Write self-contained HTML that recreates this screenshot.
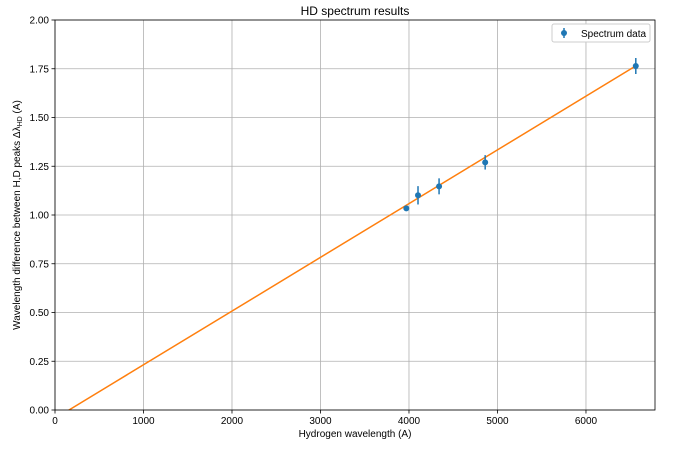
<!DOCTYPE html>
<html><head><meta charset="utf-8"><style>
body{margin:0;background:#fff;font-family:"Liberation Sans","DejaVu Sans",sans-serif}
</style></head><body>
<svg width="679" height="448" xmlns="http://www.w3.org/2000/svg" font-family="Liberation Sans, DejaVu Sans, sans-serif">
<defs><clipPath id="pc"><rect x="55" y="20" width="600" height="390"/></clipPath></defs>
<g id="grid"></g><g id="marks" clip-path="url(#pc)"></g><g id="axes"></g>
<text x="355" y="15" text-anchor="middle" font-size="12">HD spectrum results</text>
<text x="355" y="437" text-anchor="middle" font-size="10">Hydrogen wavelength (A)</text>
<text transform="translate(20,215) rotate(-90)" text-anchor="middle" font-size="10">Wavelength difference between H,D peaks Δλ<tspan font-size="7" dy="2">HD</tspan><tspan dy="-2"> (A)</tspan></text>
<g>
<rect x="552" y="24" width="98" height="18" fill="#fff" stroke="#ccc" rx="2"/>
<line x1="564" y1="28" x2="564" y2="38" stroke="#1f77b4" stroke-width="1.5"/>
<circle cx="564" cy="33" r="3" fill="#1f77b4"/>
<text x="581" y="37" font-size="10">Spectrum data</text>
</g>
</svg>
<script>
const xTicks=[0,1000,2000,3000,4000,5000,6000];
const yTicks=[0,0.25,0.5,0.75,1.0,1.25,1.5,1.75,2.0];
const wavelengths=[3970,4102,4340,4861,6563];
const diffs=[1.034,1.101,1.147,1.270,1.764];
const errors=[0.01,0.047,0.041,0.037,0.041];
const fitSlope=0.0002755;
const fitIntercept=-0.0436;
const X0=55,X1=655,Y0=410,Y1=20,XMAX=6780,YMAX=2.0;
const sx=v=>X0+v/XMAX*(X1-X0);
const sy=v=>Y0-v/YMAX*(Y0-Y1);
const NS='http://www.w3.org/2000/svg';
function mk(t,a,p){const e=document.createElementNS(NS,t);for(const k in a)e.setAttribute(k,a[k]);p.appendChild(e);return e;}
const grid=document.getElementById('grid'),marks=document.getElementById('marks'),axes=document.getElementById('axes');
xTicks.forEach(t=>{
 const g=mk('line',{x1:sx(t),x2:sx(t),y1:Y1,y2:Y0,stroke:'#b0b0b0','stroke-width':0.8},grid);
 
 
 mk('line',{x1:sx(t),x2:sx(t),y1:Y0,y2:Y0+3.5,stroke:'#000','stroke-width':0.8},axes);
 const l=mk('text',{x:sx(t),y:Y0+14,'text-anchor':'middle','font-size':10},axes);
 l.textContent=t;
 
 
});
yTicks.forEach(t=>{
 const g=mk('line',{x1:X0,x2:X1,y1:sy(t),y2:sy(t),stroke:'#b0b0b0','stroke-width':0.8},grid);
 
 
 mk('line',{x1:X0-3.5,x2:X0,y1:sy(t),y2:sy(t),stroke:'#000','stroke-width':0.8},axes);
 const l=mk('text',{x:X0-6,y:sy(t)+3.5,'text-anchor':'end','font-size':10},axes);
 l.textContent=t.toFixed(2);
 
 
});
const fr=mk('rect',{x:X0,y:Y1,width:X1-X0,height:Y0-Y1,fill:'none',stroke:'#000','stroke-width':0.8},axes);


const xa=0,xb=wavelengths[wavelengths.length-1];
const fit=mk('line',{x1:sx(xa),y1:sy(fitSlope*xa+fitIntercept),x2:sx(xb),y2:sy(fitSlope*xb+fitIntercept),stroke:'#ff7f0e','stroke-width':1.5},marks);


wavelengths.forEach((w,i)=>{
 const eb=mk('line',{x1:sx(w),x2:sx(w),y1:sy(diffs[i]-errors[i]),y2:sy(diffs[i]+errors[i]),stroke:'#1f77b4','stroke-width':1.5},marks);
 
 
 const c=mk('circle',{cx:sx(w),cy:sy(diffs[i]),r:3,fill:'#1f77b4'},marks);
 
 
});
</script>
</body></html>
